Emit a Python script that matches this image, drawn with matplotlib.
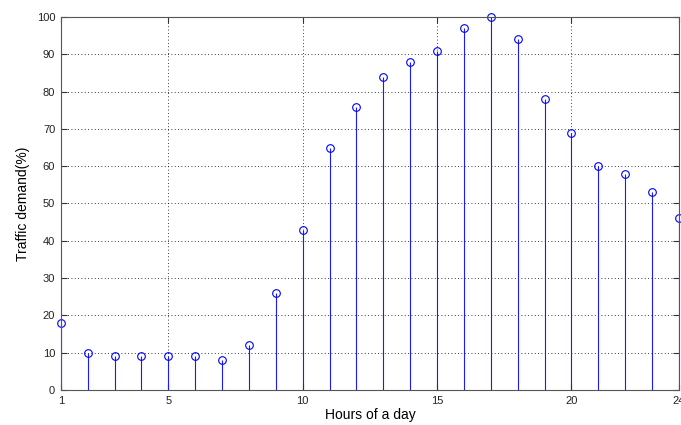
import matplotlib
matplotlib.use("Agg")
import matplotlib.pyplot as plt

# hourly traffic demand, percent of the daily peak
hours = list(range(1, 25))
demand = [18, 10, 9, 9, 9, 9, 8, 12, 26, 43, 65, 76,
          84, 88, 91, 97, 100, 94, 78, 69, 60, 58, 53, 46]
xticks = [1, 5, 10, 15, 20, 24]
yticks = list(range(0, 101, 10))

plt.rcParams.update({
    "font.family": "Liberation Sans",
    "font.size": 8,
})

fig = plt.figure(figsize=(6.81, 4.25), dpi=100)
ax = fig.add_axes([60.8 / 681, 35 / 425, 618.2 / 681, 373 / 425])

markers, stems, base = ax.stem(hours, demand, basefmt=" ")
plt.setp(stems, color="#1a1aff", linewidth=0.8)
plt.setp(markers, marker="o", markersize=5.5, markerfacecolor="none",
         markeredgecolor="#0000ff", markeredgewidth=0.8)
markers.set_clip_on(False)

ax.set_xlim(1, 24)
ax.set_ylim(0, 100)
ax.set_xticks(xticks)
ax.set_yticks(yticks)
ax.grid(True, color="black", linestyle=(0, (1, 3)), linewidth=0.6)
ax.set_axisbelow(True)

ax.tick_params(direction="in", top=True, right=True, length=4, width=0.8,
               colors="#333333", labelcolor="#222222", pad=4)
for s in ax.spines.values():
    s.set_color("#555555")
    s.set_linewidth(0.8)

ax.set_xlabel("Hours of a day", fontsize=10, labelpad=2)
ax.set_ylabel("Traffic demand(%)", fontsize=10, labelpad=5)

fig.savefig("out.png", dpi=100)
